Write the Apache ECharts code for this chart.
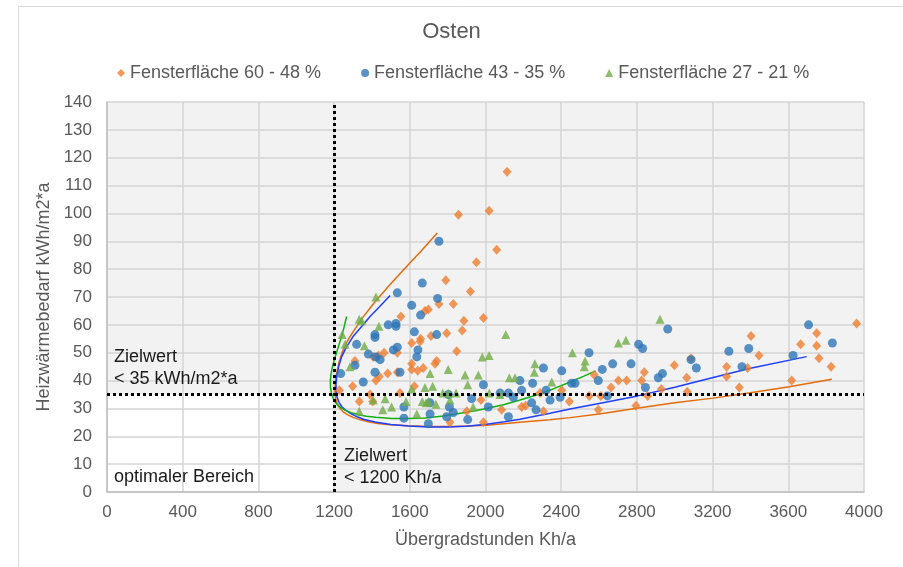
<!DOCTYPE html>
<html>
<head>
<meta charset="utf-8">
<title>Osten</title>
<script src="https://cdn.jsdelivr.net/npm/echarts@6/dist/echarts.min.js"></script>
<style>
    html, body { margin: 0; padding: 0; background: #fff; }
    #chart { width: 903px; height: 567px; }
</style>
</head>
<body>
<div id="chart"></div>
<script>
// Messpunkte je Fensterflächen-Gruppe [Übergradstunden, Heizwärmebedarf]
var orangePts = [[1857,99.5],[2019,101],[2114,115],[2059,87],[1952,82.5],[1790,76],[1920,72],[1553,63],[1680,65],[1698,65.5],
    [1754,67.5],[1830,67.5],[1989,62.5],[1886,61.5],[1877,58],[1795,57],[1712,56],[1657,55],[1654,54],[1610,53.5],
    [1464,50],[1534,50],[1407,48.5],[1434,49],[1848,50.5],[1310,47],[1742,47],[1733,46],[1610,46],[1610,44],
    [1642,43.5],[1671,44.5],[1483,42.5],[1534,43],[1421,40],[1439,41.5],[1298,38],[1624,38],[1228,36.5],[1548,35.5],
    [1333,32.5],[1404,32.5],[1390,35],[1901,29],[1812,25],[1976,33],[1989,25],[2085,29.5],[2191,30.5],[2212,31],
    [2306,29],[2288,35.5],[2443,32.5],[2403,36.5],[2548,34.5],[2575,42],[2596,29.5],[2609,34.5],[2663,37.5],[2702,40],
    [2746,40],[2795,31],[2825,40],[2839,43],[2857,34.5],[2929,37],[2998,45.5],[3063,41],[3066,36],[3086,48],
    [3274,45],[3274,41.5],[3341,37.5],[3385,44.5],[3403,56],[3445,49],[3618,40],[3665,53],[3750,57],[3750,52.5],
    [3762,48],[3826,45],[3961,60.5]];
var bluePts = [[1754,90],[1666,75],[1534,71.5],[1747,69.5],[1610,67],[1657,63.5],[1486,60],[1527,60.5],[1527,59.5],[1416,56.5],
    [1416,55.5],[1624,57.5],[1742,56.5],[1319,53],[1381,49.5],[1513,51],[1534,52],[1421,48.5],[1443,47.5],[1643,51],
    [1637,48.5],[1310,45.5],[1235,42.5],[1416,43],[1548,43],[1354,39.5],[1989,38.5],[1804,35],[1927,33.5],[2077,35.5],
    [2121,35.5],[2147,34],[2182,40],[2191,36.5],[2249,39],[2306,44.5],[2320,36.5],[2341,33],[2403,43.5],[2394,34],
    [1569,30.5],[1569,26.5],[1707,32],[1707,28],[1698,24.5],[1795,27],[1830,28.5],[1809,30.5],[1906,26],[2015,30.5],
    [2121,27],[2244,32],[2267,29.5],[2455,39],[2473,39],[2547,50],[2596,40],[2617,44],[2644,34.5],[2672,46],
    [2769,46],[2809,53],[2830,51.5],[2845,37.5],[2913,41],[2935,42.5],[2963,58.5],[3086,47.5],[3114,44.5],[3286,50.5],
    [3355,45],[3391,51.5],[3625,49],[3707,60],[3833,53.5]];
var greenPts = [[1421,70],[1333,62],[1346,61.5],[1437,59.5],[1243,56.5],[1258,53],[1360,52.5],[1284,45],[1707,42.5],[1803,44],
    [1892,42],[1962,42],[1983,48.5],[2019,49],[2107,56.5],[2126,41],[2156,41],[2261,46],[2258,43],[2350,39.5],
    [1610,37],[1680,37.5],[1721,38],[1906,38.5],[1774,35.5],[1803,35.5],[1844,35.5],[2077,35],[2020,35.5],[1407,33],
    [1470,33.5],[1580,32.5],[1666,32.5],[1686,32],[1698,32.5],[1738,31.5],[1812,33],[1333,29],[1457,29.5],[1504,30.5],
    [1637,28],[1935,30.5],[2459,50],[2522,45],[2526,47],[2702,53.5],[2742,54.5],[2922,62]];

// Trendlinien
var orangeTrend = [[1745,93],[1660,86.5],[1566,79.7],[1490,74],[1416,68.3],[1350,62.5],[1300,57.5],[1270,54.2],[1245,50.5],[1226,46.5],
    [1213,42.5],[1206,39],[1205,36],[1209,33.5],[1218,31.5],[1231,30],[1248,28.8],[1270,27.8],[1300,26.8],[1340,25.9],
    [1380,25.2],[1430,24.6],[1479,24.2],[1592,23.8],[1700,23.5],[1829,23.5],[2006,24],[2182,25],[2340,25.9],[2447,26.7],
    [2600,28],[2800,30.1],[3000,32],[3203,33.7],[3400,35.6],[3605,37.8],[3830,40.5]];
var blueTrend = [[1496,70.5],[1440,66.5],[1390,63],[1340,59],[1300,55.8],[1265,52],[1240,48.6],[1224,45],[1214,41.5],[1210,38.5],
    [1211,36],[1216,34],[1226,32.2],[1240,30.7],[1260,29.4],[1293,28],[1325,26.9],[1355,26.1],[1416,25.1],[1500,24.2],
    [1592,23.7],[1700,23.3],[1800,23.3],[1900,23.6],[2006,24.3],[2100,25.2],[2182,26.1],[2341,28.3],[2447,29.8],[2600,31.8],
    [2804,34.5],[3000,37.6],[3203,41.1],[3400,44.4],[3697,48.6]];
var greenTrend = [[1266,63],[1252,59],[1238,55.5],[1222,52],[1206,48.5],[1193,45.5],[1184,42.5],[1180,40],[1181,37.5],[1186,35.5],
    [1195,33.6],[1207,32.2],[1222,31],[1240,30.1],[1260,29.3],[1290,28.5],[1328,27.7],[1370,27.2],[1420,26.8],[1504,26.4],
    [1600,26.4],[1680,26.6],[1777,27.3],[1900,28.6],[2006,30],[2100,31.4],[2182,33],[2270,34.8],[2358,37],[2447,39.5],
    [2520,41.6],[2582,43.5]];

var seriesNames = ['Fensterfläche 60 - 48 %', 'Fensterfläche 43 - 35 %', 'Fensterfläche 27 - 21 %'];
var zielX = 1200;   // Kh/a
var zielY = 35;     // kWh/m2*a

(function () {
    var myChart = echarts.init(document.getElementById('chart'), null, { renderer: 'canvas' });
    var grey = '#595959';
    var font = '"Liberation Sans", Arial, sans-serif';

    function trend(data, color) {
        return {
            type: 'line',
            data: data,
            showSymbol: false,
            smooth: false,
            silent: true,
            z: 4,
            lineStyle: { color: color, width: 1.5 }
        };
    }

    var option = {
        animation: false,
        textStyle: { fontFamily: font },
        title: {
            text: 'Osten',
            left: 'center',
            top: 16,
            textStyle: { color: grey, fontSize: 22, fontWeight: 'normal', fontFamily: font }
        },
        legend: {
            data: seriesNames,
            left: 112,
            top: 59,
            itemWidth: 8,
            itemHeight: 8,
            itemGap: 40,
            textStyle: { color: grey, fontSize: 18, fontFamily: font }
        },
        graphic: [
            // Rahmen des Diagramms
            { type: 'rect', left: 16, top: 4, z: -10, silent: true,
              shape: { width: 1000, height: 1000 },
              style: { fill: null, stroke: '#d9d9d9', lineWidth: 1 } },
            { type: 'text', left: 114, top: 346, z: 10, silent: true,
              style: { text: 'Zielwert\n< 35 kWh/m2*a', fill: '#1a1a1a', font: '18px ' + font, lineHeight: 22 } },
            { type: 'text', left: 344, top: 445, z: 10, silent: true,
              style: { text: 'Zielwert\n< 1200 Kh/a', fill: '#1a1a1a', font: '18px ' + font, lineHeight: 22 } },
            { type: 'text', left: 114, top: 468, z: 10, silent: true,
              style: { text: 'optimaler Bereich', fill: '#1a1a1a', font: '18px ' + font } }
        ],
        grid: {
            left: 107,
            right: 39,
            top: 102,
            bottom: 75,
            show: true,
            backgroundColor: '#f2f2f2',
            borderWidth: 0
        },
        xAxis: {
            type: 'value',
            min: 0,
            max: 4000,
            interval: 400,
            z: 3,
            name: 'Übergradstunden Kh/a',
            nameLocation: 'middle',
            nameGap: 39,
            nameTextStyle: { color: grey, fontSize: 18, fontFamily: font },
            axisLabel: { color: grey, fontSize: 17, margin: 12, formatter: function (v) { return String(v); } },
            axisTick: { show: false },
            axisLine: { lineStyle: { color: '#bfbfbf', width: 1.5 } },
            splitLine: { lineStyle: { color: '#d4d4d4', width: 1.5 } }
        },
        yAxis: {
            type: 'value',
            min: 0,
            max: 140,
            interval: 10,
            z: 3,
            name: 'Heizwärmebedarf kWh/m2*a',
            nameLocation: 'middle',
            nameGap: 52,
            nameTextStyle: { color: grey, fontSize: 18, fontFamily: font },
            axisLabel: { color: grey, fontSize: 17, margin: 15 },
            axisTick: { show: false },
            axisLine: { show: true, lineStyle: { color: '#bfbfbf', width: 1.5 } },
            splitLine: { lineStyle: { color: '#d4d4d4', width: 1.5 } }
        },
        series: [
            {
                name: seriesNames[0],
                type: 'scatter',
                data: orangePts,
                symbol: 'diamond',
                symbolSize: [9, 10],
                z: 4,
                itemStyle: { color: '#ED7D31' }
            },
            {
                name: seriesNames[1],
                type: 'scatter',
                data: bluePts,
                symbol: 'circle',
                symbolSize: 9,
                z: 4,
                itemStyle: { color: '#2E75B6' }
            },
            {
                name: seriesNames[2],
                type: 'scatter',
                data: greenPts,
                symbol: 'triangle',
                symbolSize: 9,
                z: 4,
                itemStyle: { color: '#70AD47' }
            },
            trend(orangeTrend, '#E36C0A'),
            trend(blueTrend, '#1F3FFF'),
            trend(greenTrend, '#10B010'),
            {
                // Zielwerte: weißer Bereich + gepunktete Linien
                name: 'Zielwerte',
                type: 'line',
                data: [],
                silent: true,
                markArea: {
                    silent: true,
                    itemStyle: { color: '#ffffff' },
                    data: [[{ coord: [0, 0] }, { coord: [zielX, zielY] }]]
                },
                markLine: {
                    silent: true,
                    symbol: ['none', 'none'],
                    label: { show: false },
                    lineStyle: { color: '#000', width: 3, type: [3, 3] },
                    data: [
                        [{ coord: [zielX, 0] }, { coord: [zielX, 140] }],
                        [{ coord: [0, zielY] }, { coord: [4000, zielY] }]
                    ]
                }
            }
        ]
    };
    myChart.setOption(option);
    window.addEventListener('resize', function () {
        myChart.resize();
    });
})();
</script>
</body>
</html>
